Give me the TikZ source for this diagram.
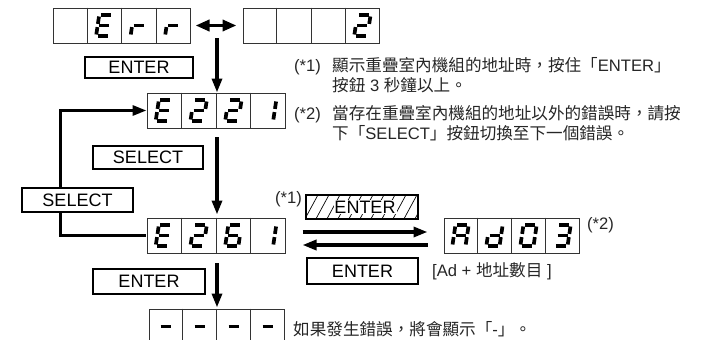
\documentclass[tikz,border=0pt]{standalone}
\usepackage{fontspec}
\setmainfont{Liberation Sans}
\newfontfamily\cjk{Noto Sans CJK TC}
\usetikzlibrary{calc,arrows.meta}
\newcommand\txtfont{\fontsize{16.6}{19}\selectfont}
\newcommand\btnfont{\fontsize{18}{20}\selectfont}
\def\sga{(-5,-10.5)--(5,-10.5)}
\def\sgd{(-5,10.5)--(5,10.5)}
\def\sgg{(-5,0)--(5,0)}
\def\sgf{(-6.6,-9)--(-6.6,-1.6)}
\def\sge{(-6.6,1.6)--(-6.6,9)}
\def\sgb{(6.6,-9)--(6.6,-1.6)}
\def\sgc{(6.6,1.6)--(6.6,9)}
\newcommand\dig[3]{%
  \path ($(#1.west)!{(2*#2-1)/8}!(#1.east)$) coordinate (dg);
  \begin{scope}[shift={(dg)},xslant=0.15]
    \foreach \s in {#3}{\draw[segline] \csname sg\s\endcsname;}
  \end{scope}}
\newcommand\dividers[1]{%
  \foreach \i in {1,2,3}{\draw[cellline] ($(#1.north west)!\i/4!(#1.north east)$) -- ($(#1.south west)!\i/4!(#1.south east)$);}}
\begin{document}
\begin{tikzpicture}[x=1pt,y=-1pt,
  rowbox/.style={draw=black!80, line width=1pt, minimum width=137pt, minimum height=35pt, inner sep=0pt},
  cellline/.style={draw=black!80, line width=1pt},
  segline/.style={line width=3.7pt, black},
  btn/.style={draw, line width=1.8pt, fill=white, inner sep=0pt, font=\btnfont},
  arr/.style={line width=3.3pt, -{Triangle[length=14pt,width=10pt]}},
  txt/.style={anchor=base west, inner sep=0pt, font=\txtfont, text=black!85}]
\clip (0,0) rectangle (713,340);
% display rows
\node[rowbox] (err) at (121.5,25.5) {};
\node[rowbox, minimum width=136pt] (err2) at (311,25.5) {};
\node[rowbox, minimum width=138pt] (e221) at (216,110.5) {};
\node[rowbox, minimum width=138pt] (e261) at (216,235.5) {};
\node[rowbox, minimum width=135pt] (ad) at (511.5,235.5) {};
\node[rowbox, minimum width=135pt] (dash) at (216.5,326.5) {};
\dividers{err}\dividers{err2}\dividers{e221}\dividers{e261}\dividers{ad}\dividers{dash}
% digits
\dig{err}{2}{a,d,e,f,g}\dig{err}{3}{e,g}\dig{err}{4}{e,g}
\dig{err2}{4}{a,b,g,e,d}
\dig{e221}{1}{a,d,e,f,g}\dig{e221}{2}{a,b,g,e,d}\dig{e221}{3}{a,b,g,e,d}\dig{e221}{4}{b,c}
\dig{e261}{1}{a,d,e,f,g}\dig{e261}{2}{a,b,g,e,d}\dig{e261}{3}{a,f,g,e,d,c}\dig{e261}{4}{b,c}
\dig{ad}{1}{a,b,c,e,f,g}\dig{ad}{2}{b,c,d,e,g}\dig{ad}{3}{a,b,c,d,e,f}\dig{ad}{4}{a,b,c,d,g}
\dig{dash}{1}{g}\dig{dash}{2}{g}\dig{dash}{3}{g}\dig{dash}{4}{g}
% double arrow
\draw[line width=3.5pt, {Triangle[length=14pt,width=11pt]}-{Triangle[length=14pt,width=11pt]}, shorten <=5pt, shorten >=6pt] (err.east) -- (err2.west);
% vertical arrows
\coordinate (v1s) at (217,38);
\coordinate (v2s) at (217,137);
\coordinate (v3s) at (217,263);
\draw[arr] (v1s) -- (v1s |- e221.north);
\draw[arr, shorten >=3pt] (v2s) -- (v2s |- e261.north);
\draw[arr, shorten >=1pt] (v3s) -- (v3s |- dash.north);
% loop
\coordinate (lx) at (60,0);
\draw[line width=3pt, -{Triangle[length=14pt,width=10pt]}] ([xshift=-1pt]e261.west) -- (e261.west -| lx) -- (e221.west -| lx) -- (e221.west);
% right arrows
\draw[arr] ([xshift=17pt,yshift=3.5pt]e261.east) -- ([xshift=-16pt,yshift=3.5pt]ad.west);
\draw[arr] ([xshift=-16pt,yshift=-9.5pt]ad.west) -- ([xshift=17pt,yshift=-9.5pt]e261.east);
% buttons
\node[btn, minimum width=108pt, minimum height=21pt] (enter1) at (139,67.5) {ENTER};
\node[btn, minimum width=110pt, minimum height=23pt] (sel1) at (148,157.5) {SELECT};
\node[btn, minimum width=111pt, minimum height=24pt] (sel2) at (77.5,200) {SELECT};
\node[btn, minimum width=111pt, minimum height=26pt] (enter3) at (362.5,271) {ENTER};
\node[btn, minimum width=112pt, minimum height=25pt] (enter4) at (149,281.5) {ENTER};
% hatched button
\path node[minimum width=112pt, minimum height=24pt, inner sep=0pt] (henter) at (362,207) {};
\begin{scope}
  \clip (henter.south west) rectangle (henter.north east);
  \foreach \k in {0,...,12}{\draw[line width=0.7pt] ($(henter.south west)+(\k*11-12,0)$) -- ++(13,-24);}
\end{scope}
\draw[line width=1.8pt] (henter.south west) rectangle (henter.north east);
\node[fill=white, inner sep=1pt, font=\btnfont] (hentertxt) at ([xshift=3pt]henter.center) {ENTER};
% texts
\node[txt] (n1) at (294,71) {(*1)};
\node[txt] (t1a) at (332,71) {{\cjk 顯示重疊室內機組的地址時，按住「}ENTER{\cjk 」}};
\node[txt] (t1b) at (332,91) {{\cjk 按鈕} 3 {\cjk 秒鐘以上。}};
\node[txt] (n2) at (294,119) {(*2)};
\node[txt] (t2a) at (332,119) {\cjk 當存在重疊室內機組的地址以外的錯誤時，請按};
\node[txt] (t2b) at (332,139) {{\cjk 下「}SELECT{\cjk 」按鈕切換至下一個錯誤。}};
\node[txt] (n3) at (275,203) {(*1)};
\node[txt] (n4) at (587,229.5) {(*2)};
\node[txt] (adl) at (432,276) {[Ad + {\cjk 地址數目} ]};
\node[txt] (bt) at (293,335) {{\cjk 如果發生錯誤，將會顯示「}-{\cjk 」。}};
\end{tikzpicture}
\end{document}
